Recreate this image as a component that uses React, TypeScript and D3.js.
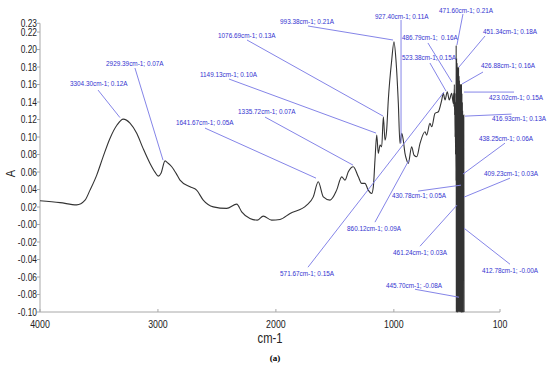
import React from "react";
import * as d3 from "d3";

// spectrum, wavenumber (cm-1) and absorbance
const spectrumWn = [
  4000, 3830, 3689, 3618, 3576, 3519, 3466, 3407, 3347, 3294, 3237, 3180, 3127, 3067, 3025, 2997, 2974, 2940,
  2915, 2883, 2847, 2813, 2728, 2672, 2616, 2531, 2417, 2332, 2290, 2220, 2158, 2107, 2036, 1965, 1880, 1739,
  1683, 1641, 1598, 1541, 1485, 1442, 1414, 1386, 1344, 1301, 1273, 1245, 1217, 1188, 1174, 1160, 1145, 1132,
  1117, 1103, 1089, 1075, 1061, 1047, 1018, 999, 982, 962, 948, 933, 920, 906, 891, 878, 849, 829, 806, 778,
  736, 722, 694, 679, 651, 623, 594, 581, 566, 547, 530, 510, 496,
  493, 490, 487, 485, 483, 481, 479, 477, 475, 473, 471.6, 470, 468, 466, 464, 462, 461.2, 459, 457, 455, 453,
  451.3, 449, 447, 445.7, 444, 442, 440, 438.3, 436, 434, 432, 430.8, 429, 427.5, 426.9, 425, 423, 421, 419,
  417.5, 416.9, 415, 414, 412.8, 411, 409.2, 407, 405,
];
const spectrumAbs = [
  0.0271, 0.025, 0.0225, 0.0279, 0.0393, 0.0565, 0.077, 0.0984, 0.1137, 0.1205, 0.1159, 0.1042, 0.0873, 0.0698,
  0.0599, 0.0553, 0.0587, 0.0728, 0.0702, 0.066, 0.0587, 0.0507, 0.0431, 0.0393, 0.0279, 0.0202, 0.0184, 0.0233,
  0.0145, 0.0069, 0.005, 0.0096, 0.005, 0.0058, 0.0126, 0.0221, 0.0316, 0.0488, 0.0316, 0.0279, 0.0393, 0.0545,
  0.0507, 0.0602, 0.066, 0.0545, 0.047, 0.047, 0.0393, 0.0355, 0.0431, 0.0736, 0.1022, 0.0813, 0.0908, 0.0888,
  0.1232, 0.0965, 0.1079, 0.1423, 0.188, 0.2089, 0.188, 0.1385, 0.0927, 0.1042, 0.0965, 0.0816, 0.0736, 0.0698,
  0.0888, 0.0793, 0.0774, 0.0927, 0.106, 0.1022, 0.1156, 0.1117, 0.127, 0.1289, 0.1423, 0.1499, 0.1423, 0.1518,
  0.1423, 0.1499, 0.1385,
  0.15, 0.135, 0.16, 0.125, 0.15, 0.1, 0.14, 0.08, 0.13, 0.05, 0.205, -0.1, 0.19, -0.1, 0.185, -0.1, 0.03, 0.18,
  -0.1, 0.18, -0.1, 0.18, -0.1, 0.17, -0.08, 0.165, -0.1, 0.16, 0.06, -0.1, 0.16, -0.1, 0.05, 0.16, -0.1, 0.16,
  -0.1, 0.15, -0.1, 0.14, -0.1, 0.13, -0.1, 0.125, -0.0, 0.125, 0.03, 0.125, -0.1,
];

// peak labels, the curve point each leader points to, where the label sits and where its leader starts
const peakLabels = [
  "3304.30cm-1; 0.12A", "2929.39cm-1; 0.07A", "1641.67cm-1; 0.05A", "1335.72cm-1; 0.07A",
  "1149.13cm-1; 0.10A", "1076.69cm-1; 0.13A", "993.38cm-1; 0.21A", "927.40cm-1; 0.11A",
  "471.60cm-1; 0.21A", "486.79cm-1;  0.16A", "523.38cm-1; 0.15A", "451.34cm-1; 0.18A",
  "426.88cm-1; 0.16A", "423.02cm-1; 0.15A", "416.93cm-1; 0.13A", "438.25cm-1; 0.06A",
  "409.23cm-1; 0.03A", "430.78cm-1; 0.05A", "860.12cm-1; 0.09A", "571.67cm-1; 0.15A",
  "461.24cm-1; 0.03A", "412.78cm-1; -0.00A", "445.70cm-1; -0.08A",
];
const tipWn = [3322, 2957, 1660, 1346, 1151, 1092, 1007, 939, 465, 507, 558, 448, 422, 405, 397, 414, 405, 431, 872, 575, 465, 405, 448];
const tipAbs = [0.1222, 0.0736, 0.053, 0.0679, 0.1045, 0.124, 0.2109, 0.093, 0.2052, 0.1628, 0.1526, 0.18, 0.1606, 0.1514, 0.1239, 0.0576, 0.0313, 0.045, 0.0736, 0.1514, 0.0221, -0.0042, -0.0831];
const textWn = [3746, 3440, 2847, 2321, 2644, 2491, 1965, 1160, 617, 931, 931, 244, 261, 193, 168, 278, 236, 1016, 1397, 1965, 1007, 253, 1067];
const textAbs = [0.158, 0.181, 0.1137, 0.1262, 0.1686, 0.2132, 0.2292, 0.235, 0.2418, 0.2109, 0.188, 0.2178, 0.1789, 0.1423, 0.1182, 0.0953, 0.0553, 0.0301, -0.0076, -0.059, -0.035, -0.0557, -0.0728];
const fromWn = [3508, 3195, 2601, 2092, 2398, 2245, 1728, 939, 414, 711, 694, 227, 244, -19, 2, 58, 15, 795, 1160, 1728, 778, 15, 821];
const fromAbs = [0.1537, 0.1789, 0.1102, 0.1228, 0.1663, 0.2109, 0.2269, 0.2338, 0.2406, 0.2075, 0.1846, 0.2155, 0.1743, 0.1514, 0.1262, 0.093, 0.053, 0.0382, 0.0027, -0.0488, -0.0248, -0.0454, -0.074];

const xTicks = [4000, 3000, 2000, 1000, 100];
const yTicks = [0.23, 0.22, 0.2, 0.18, 0.16, 0.14, 0.12, 0.1, 0.08, 0.06, 0.04, 0.02, 0, -0.02, -0.04, -0.06, -0.08, -0.1];
const yTickLabels = ["0.23", "0.22", "0.20", "0.18", "0.16", "0.14", "0.12", "0.10", "0.08", "0.06", "0.04", "0.02", "-0.00", "-0.02", "-0.04", "-0.06", "-0.08", "-0.10"];

const font = "'Liberation Sans', Arial, sans-serif";

export default function App() {
  const width = 550;
  const height = 368;

  const x = d3.scaleLinear().domain([4000, 100]).range([40, 500]);
  const y = d3.scaleLinear().domain([-0.1, 0.23]).range([312, 23.3]);

  const points = spectrumWn.map((wn, i) => [wn, spectrumAbs[i]] as [number, number]);
  const line = d3
    .line<[number, number]>()
    .x((d) => x(d[0]))
    .y((d) => y(d[1]))
    .curve(d3.curveMonotoneX);

  const axisColor = "#a8a8a8";

  return (
    <svg
      width={width}
      height={height}
      style={{ position: "absolute", left: 0, top: 0, background: "#fff" }}
    >
      {/* axes */}
      <line x1={40} x2={40} y1={y(0.23)} y2={y(-0.1)} stroke={axisColor} />
      <line x1={40} x2={500} y1={y(-0.1)} y2={y(-0.1)} stroke={axisColor} />
      {yTicks.map((t, i) => (
        <g key={"y" + t}>
          <line x1={37} x2={40} y1={y(t)} y2={y(t)} stroke={axisColor} />
          <text
            transform={`translate(37,${y(t) + 3.8}) scale(0.8,1)`}
            textAnchor="end"
            fontFamily={font}
            fontSize={10.5}
            fill="#222"
          >
            {yTickLabels[i]}
          </text>
        </g>
      ))}
      {xTicks.map((t) => (
        <g key={"x" + t}>
          <line x1={x(t)} x2={x(t)} y1={y(-0.1)} y2={y(-0.1) - 3} stroke={axisColor} />
          <text
            transform={`translate(${x(t)},${y(-0.1) + 16}) scale(0.8,1)`}
            textAnchor="middle"
            fontFamily={font}
            fontSize={11}
            fill="#222"
          >
            {t}
          </text>
        </g>
      ))}
      <text
        transform="translate(270,343) scale(0.8,1)"
        textAnchor="middle"
        fontFamily={font}
        fontSize={14}
        fill="#222"
      >
        cm-1
      </text>
      <text
        transform={`translate(15,${(y(0.23) + y(-0.1)) / 2 + 6}) rotate(-90) scale(0.85,1)`}
        textAnchor="middle"
        fontFamily={font}
        fontSize={13}
        fill="#222"
      >
        A
      </text>
      <text x={275} y={361} textAnchor="middle" fontFamily="'Liberation Serif', 'Times New Roman', serif" fontWeight="bold" fontSize={9} fill="#000">
        (a)
      </text>

      {/* spectrum */}
      <path d={line(points) ?? ""} fill="none" stroke="#333" strokeWidth={1.1} />

      {/* peak annotations */}
      {peakLabels.map((label, i) => (
        <g key={label}>
          <line
            x1={x(fromWn[i])}
            y1={y(fromAbs[i])}
            x2={x(tipWn[i])}
            y2={y(tipAbs[i])}
            stroke="#8585e8"
            strokeWidth={1}
          />
          <text
            transform={`translate(${x(textWn[i])},${y(textAbs[i])}) scale(0.8,1)`}
            fontFamily={font}
            fontSize={8}
            fill="#3434d0"
            style={{ whiteSpace: "pre" }}
          >
            {label}
          </text>
        </g>
      ))}
    </svg>
  );
}
